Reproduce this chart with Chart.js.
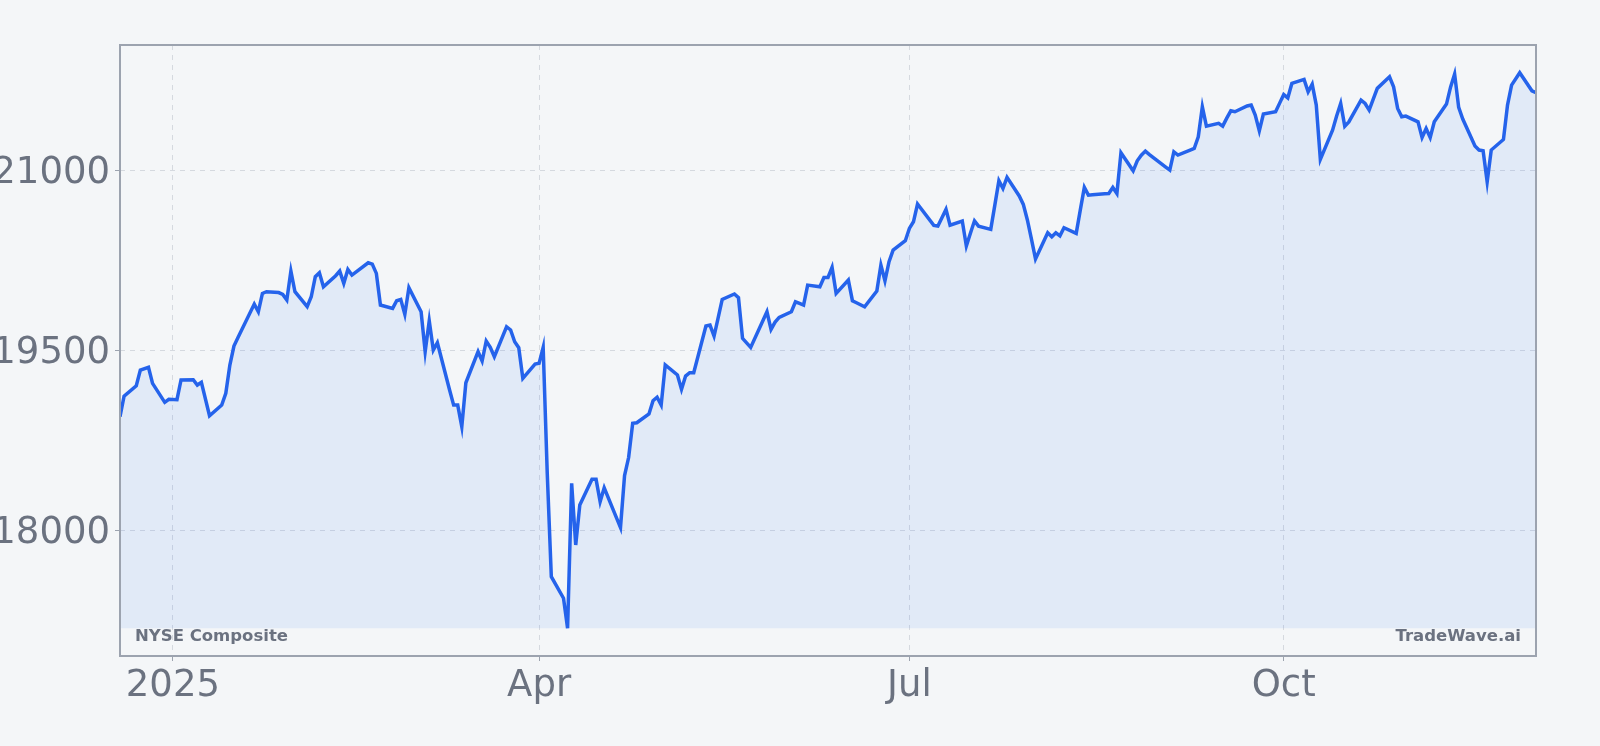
<!DOCTYPE html>
<html>
<head>
<meta charset="utf-8">
<title>NYSE Composite</title>
<script src="https://cdn.jsdelivr.net/npm/chart.js@4.4.1/dist/chart.umd.min.js"></script>
<style>
  html, body { margin: 0; padding: 0; background: #f4f6f8; }
  canvas { display: block; }
</style>
</head>
<body>
<canvas id="chart" width="1600" height="746"></canvas>
<script>
// closing values, one array per month (NYSE trading days)
const DEC_2024 = [18950, 19122, 19208, 19339, 19362, 19228, 19070, 19095];
const JAN_2025 = [19092, 19256, 19258, 19214, 19237, 18958, 19047, 19145, 19381, 19539, 19610, 19889, 19825, 19978, 19992, 19985, 19970, 19923, 20164, 19992];
const FEB_2025 = [19867, 19950, 20117, 20150, 20033, 20125, 20164, 20062, 20178, 20131, 20233, 20222, 20145, 19881, 19853, 19917, 19928, 19803, 20025];
const MAR_2025 = [19825, 19492, 19750, 19506, 19567, 19173, 19047, 19047, 18867, 19233, 19492, 19414, 19581, 19528, 19450, 19700, 19673, 19575, 19525, 19270, 19389];
const APR_2025 = [19395, 19528, 18480, 17617, 17437, 17187, 18395, 17881, 18214, 18428, 18428, 18242, 18358, 18026, 18460, 18610, 18895, 18900, 18973, 19083, 19112];
const MAY_2025 = [19047, 19381, 19298, 19178, 19289, 19317, 19317, 19706, 19714, 19622, 19773, 19928, 19973, 19942, 19603, 19565, 19528, 19825, 19678, 19739, 19778];
const JUN_2025 = [19825, 19908, 19895, 19881, 20047, 20033, 20111, 20111, 20195, 19978, 20089, 19917, 19900, 19867, 19997, 20214, 20083, 20242, 20339, 20417];
const JUL_2025 = [20520, 20575, 20723, 20545, 20540, 20608, 20678, 20547, 20581, 20373, 20480, 20583, 20539, 20512, 20714, 20917, 20853, 20945, 20790, 20720, 20590, 20430];
const AUG_2025 = [20265, 20483, 20450, 20483, 20458, 20525, 20478, 20672, 20862, 20797, 20800, 20808, 20811, 20861, 20811, 21150, 21000, 21083, 21130, 21164, 21135];
const SEP_2025 = [21031, 21006, 21158, 21131, 21172, 21186, 21283, 21533, 21372, 21395, 21372, 21439, 21500, 21492, 21540, 21548, 21464, 21333, 21473, 21492, 21564];
const OCT_2025 = [21635, 21607, 21728, 21762, 21658, 21722, 21548, 21095, 21339, 21456, 21561, 21372, 21408, 21589, 21561, 21506, 21597, 21687, 21783, 21700, 21520, 21450, 21456];
const NOV_2025 = [21408, 21278, 21353, 21278, 21408, 21556, 21697, 21806, 21528, 21431, 21206, 21173, 21167, 20908, 21173, 21261, 21548, 21714, 21817];
const DEC_2025 = [21667, 21650];

const START_DATE = '2024-12-19';
const HOLIDAYS = ['2024-12-25', '2025-01-01', '2025-01-09', '2025-01-20', '2025-02-17', '2025-04-18',
                  '2025-05-26', '2025-06-19', '2025-07-04', '2025-09-01', '2025-11-27'];

const X_TICK_DATES = ['2025-01-01', '2025-04-01', '2025-07-01', '2025-10-01'];
const X_TICK_LABELS = ['2025', 'Apr', 'Jul', 'Oct'];
const Y_TICKS = [18000, 19500, 21000];

const SERIES_NAME = 'NYSE Composite';
const BRAND = 'TradeWave.ai';

const values = [].concat(DEC_2024, JAN_2025, FEB_2025, MAR_2025, APR_2025, MAY_2025, JUN_2025,
                         JUL_2025, AUG_2025, SEP_2025, OCT_2025, NOV_2025, DEC_2025);

// walk the calendar, skipping weekends and exchange holidays
function tradingDays(start, count, holidays) {
    let out = [];
    let t = Date.parse(start + 'T00:00:00Z');
    while (out.length < count) {
        const d = new Date(t);
        const wd = d.getUTCDay();
        const iso = d.toISOString().slice(0, 10);
        if (wd !== 0 && wd !== 6 && !holidays.includes(iso)) out.push(t);
        t += 86400000;
    }
    return out;
}

const dates = tradingDays(START_DATE, values.length, HOLIDAYS);
const points = values.map((v, i) => ({ x: dates[i], y: v }));

const dataMin = Math.min(...values);
const dataMax = Math.max(...values);
const pad = (dataMax - dataMin) * 0.05;

const GRID = '#d5d9df';
const TEXT = '#6b7280';
const FRAME = '#9ca3af';

Chart.defaults.font.family = '"DejaVu Sans", sans-serif';

// frame round the plot + the two corner captions
const framePlugin = {
    id: 'frame',
    afterDraw(chart) {
        const { ctx, chartArea: a } = chart;
        ctx.save();
        ctx.strokeStyle = FRAME;
        ctx.lineWidth = 2;
        ctx.strokeRect(a.left, a.top, a.right - a.left, a.bottom - a.top);
        ctx.fillStyle = TEXT;
        ctx.font = 'bold 16.5px "DejaVu Sans", sans-serif';
        ctx.textBaseline = 'alphabetic';
        ctx.textAlign = 'left';
        ctx.fillText(SERIES_NAME, a.left + 15, a.bottom - 15);
        ctx.textAlign = 'right';
        ctx.fillText(BRAND, a.right - 15, a.bottom - 15);
        ctx.restore();
    }
};

new Chart(document.getElementById('chart'), {
    type: 'line',
    data: {
        datasets: [{
            label: SERIES_NAME,
            data: points,
            borderColor: '#2563eb',
            borderWidth: 3.5,
            backgroundColor: 'rgba(59,130,246,0.1)',
            fill: { value: dataMin },
            pointRadius: 0,
            tension: 0
        }]
    },
    options: {
        responsive: false,
        animation: false,
        layout: { padding: { top: 45, right: 64, bottom: 0, left: 0 } },
        plugins: {
            legend: { display: false },
            tooltip: { enabled: false }
        },
        scales: {
            x: {
                type: 'linear',
                min: dates[0],
                max: dates[dates.length - 1],
                afterBuildTicks: (scale) => {
                    scale.ticks = X_TICK_DATES.map(d => ({ value: Date.parse(d + 'T00:00:00Z') }));
                },
                afterFit: (scale) => { scale.height = 90; },
                ticks: {
                    color: TEXT,
                    font: { size: 37 },
                    padding: 3,
                    maxRotation: 0,
                    autoSkip: false,
                    callback: (value, index) => X_TICK_LABELS[index]
                },
                grid: { color: GRID, tickColor: FRAME, tickLength: 5 },
                border: { display: false, dash: [5, 5] }
            },
            y: {
                min: dataMin - pad,
                max: dataMax + pad,
                afterBuildTicks: (scale) => {
                    scale.ticks = Y_TICKS.map(v => ({ value: v }));
                },
                afterFit: (scale) => { scale.width = 120; },
                ticks: {
                    color: TEXT,
                    font: { size: 37 },
                    padding: 5,
                    labelOffset: 3,
                    callback: (value) => String(value)
                },
                grid: { color: GRID, tickColor: FRAME, tickLength: 5 },
                border: { display: false, dash: [5, 5] }
            }
        }
    },
    plugins: [framePlugin]
});
</script>
</body>
</html>
